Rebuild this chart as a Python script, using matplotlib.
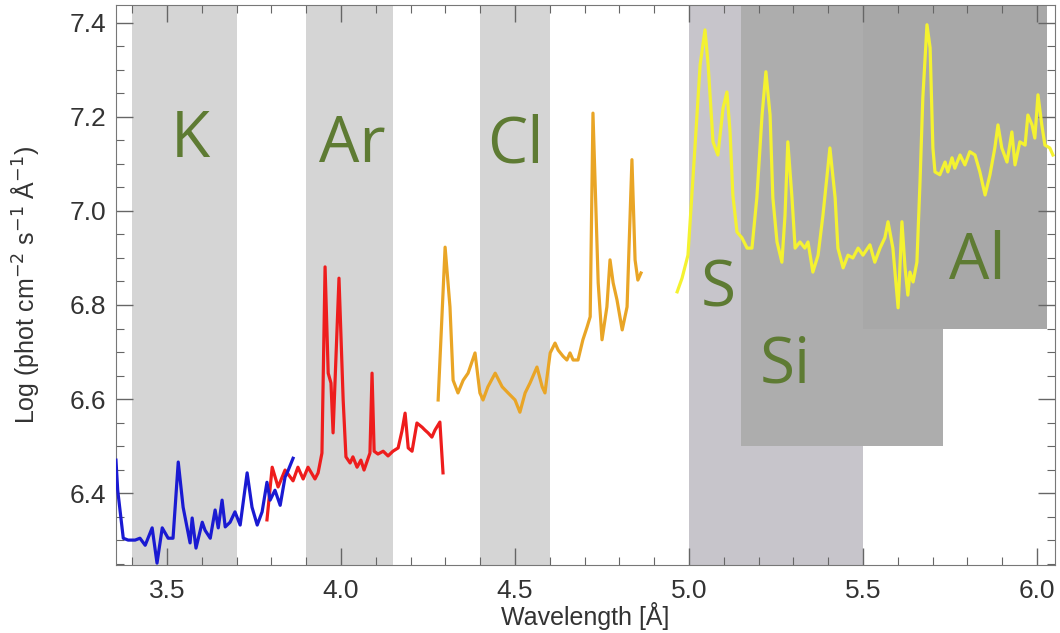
import matplotlib.pyplot as plt
from matplotlib.patches import Rectangle
from matplotlib.ticker import MultipleLocator

# --- spectral segments (wavelength in A, log photon flux) ---
wl_blue = [3.353, 3.358, 3.374, 3.388, 3.408, 3.422, 3.437, 3.457, 3.471, 3.486,
           3.503, 3.517, 3.532, 3.546, 3.566, 3.572, 3.583, 3.601, 3.609, 3.624,
           3.638, 3.647, 3.658, 3.667, 3.681, 3.695, 3.710, 3.730, 3.744, 3.759,
           3.773, 3.787, 3.796, 3.810, 3.825, 3.839, 3.845, 3.862]
fl_blue = [6.470, 6.406, 6.304, 6.300, 6.300, 6.304, 6.289, 6.326, 6.251, 6.326,
           6.304, 6.304, 6.466, 6.370, 6.294, 6.347, 6.283, 6.338, 6.321, 6.304,
           6.364, 6.326, 6.385, 6.328, 6.338, 6.360, 6.332, 6.443, 6.370, 6.332,
           6.360, 6.423, 6.385, 6.406, 6.374, 6.434, 6.443, 6.474]

wl_red = [3.787, 3.802, 3.819, 3.839, 3.862, 3.876, 3.891, 3.905, 3.925, 3.934,
          3.945, 3.954, 3.963, 3.971, 3.977, 3.994, 4.006, 4.014, 4.026, 4.034,
          4.046, 4.057, 4.066, 4.083, 4.089, 4.095, 4.106, 4.121, 4.135, 4.149,
          4.164, 4.175, 4.184, 4.193, 4.204, 4.218, 4.233, 4.241, 4.250, 4.261,
          4.270, 4.284, 4.293]
fl_red = [6.343, 6.455, 6.413, 6.449, 6.426, 6.455, 6.430, 6.455, 6.430, 6.443,
          6.485, 6.881, 6.655, 6.634, 6.528, 6.857, 6.598, 6.477, 6.464, 6.477,
          6.455, 6.470, 6.449, 6.485, 6.655, 6.489, 6.483, 6.489, 6.479, 6.489,
          6.496, 6.532, 6.570, 6.496, 6.489, 6.549, 6.540, 6.534, 6.528, 6.519,
          6.534, 6.551, 6.443]

wl_orange = [4.279, 4.299, 4.313, 4.322, 4.336, 4.351, 4.365, 4.385, 4.399, 4.408,
             4.422, 4.443, 4.463, 4.480, 4.500, 4.514, 4.529, 4.543, 4.563, 4.578,
             4.586, 4.601, 4.615, 4.624, 4.638, 4.649, 4.658, 4.667, 4.681, 4.695,
             4.707, 4.716, 4.724, 4.739, 4.750, 4.764, 4.773, 4.782, 4.793, 4.808,
             4.822, 4.836, 4.845, 4.853, 4.862]
fl_orange = [6.598, 6.923, 6.796, 6.640, 6.613, 6.640, 6.655, 6.698, 6.613, 6.598,
             6.626, 6.655, 6.626, 6.613, 6.598, 6.572, 6.613, 6.634, 6.668, 6.626,
             6.613, 6.698, 6.719, 6.704, 6.691, 6.683, 6.698, 6.683, 6.683, 6.726,
             6.753, 6.775, 7.208, 6.847, 6.726, 6.796, 6.896, 6.847, 6.811, 6.747,
             6.796, 7.109, 6.896, 6.853, 6.868]

wl_yellow = [4.966, 4.980, 4.997, 5.017, 5.032, 5.046, 5.055, 5.069, 5.083, 5.098,
             5.109, 5.118, 5.126, 5.138, 5.152, 5.167, 5.181, 5.195, 5.210, 5.221,
             5.233, 5.241, 5.253, 5.267, 5.276, 5.284, 5.296, 5.305, 5.319, 5.333,
             5.342, 5.356, 5.371, 5.385, 5.405, 5.420, 5.428, 5.443, 5.457, 5.471,
             5.486, 5.500, 5.520, 5.534, 5.549, 5.563, 5.572, 5.586, 5.601, 5.612,
             5.621, 5.629, 5.635, 5.644, 5.655, 5.664, 5.672, 5.684, 5.693, 5.701,
             5.707, 5.721, 5.736, 5.744, 5.756, 5.764, 5.779, 5.793, 5.807, 5.822,
             5.836, 5.851, 5.865, 5.879, 5.888, 5.899, 5.914, 5.928, 5.937, 5.951,
             5.966, 5.974, 5.986, 5.994, 6.003, 6.014, 6.023, 6.037, 6.046]
fl_yellow = [6.828, 6.857, 6.906, 7.134, 7.311, 7.385, 7.311, 7.147, 7.119, 7.219,
             7.253, 7.168, 7.034, 6.955, 6.943, 6.921, 6.921, 7.028, 7.204, 7.296,
             7.204, 7.028, 6.934, 6.891, 6.991, 7.147, 7.028, 6.921, 6.934, 6.921,
             6.934, 6.870, 6.906, 6.991, 7.134, 7.028, 6.921, 6.879, 6.906, 6.900,
             6.921, 6.906, 6.928, 6.891, 6.921, 6.943, 6.977, 6.921, 6.794, 6.977,
             6.879, 6.821, 6.870, 6.849, 6.891, 7.062, 7.240, 7.396, 7.347, 7.134,
             7.083, 7.077, 7.104, 7.083, 7.113, 7.091, 7.119, 7.098, 7.126, 7.119,
             7.083, 7.034, 7.077, 7.134, 7.183, 7.134, 7.104, 7.168, 7.098, 7.147,
             7.140, 7.204, 7.183, 7.155, 7.247, 7.183, 7.140, 7.134, 7.119]

# --- element bands: full-height ones (x0, x1) and boxed ones (x0, x1, y0) ---
band_names = ["K", "Ar", "Cl"]
band_x0 = [3.40, 3.90, 4.40]
band_x1 = [3.70, 4.15, 4.60]

box_names = ["S", "Si", "Al"]
box_x0 = [5.00, 5.15, 5.50]
box_x1 = [5.50, 5.73, 6.03]
box_y0 = [6.00, 6.50, 6.75]
box_colors = ["#c7c5cb", "#adadad", "#a8a8a8"]

label_names = ["K", "Ar", "Cl", "S", "Si", "Al"]
label_x = [3.566, 4.032, 4.500, 5.083, 5.276, 5.830]
label_y = [7.151, 7.140, 7.140, 6.832, 6.672, 6.891]

plt.rcParams['font.family'] = ['Liberation Sans', 'DejaVu Sans']

fig = plt.figure(figsize=(10.6, 6.33), dpi=100)
ax = fig.add_axes([0.1094, 0.1074, 0.8859, 0.8847])
ax.set_xlim(3.353, 6.052)
ax.set_ylim(6.247, 7.438)

for x0, x1 in zip(band_x0, band_x1):
    ax.axvspan(x0, x1, color="#d5d5d5", lw=0, zorder=0)
for x0, x1, y0, c in zip(box_x0, box_x1, box_y0, box_colors):
    ax.add_patch(Rectangle((x0, y0), x1 - x0, 2.0, color=c, lw=0, zorder=0))

ax.plot(wl_blue, fl_blue, color="#1a1ad2", lw=2.3, zorder=3)
ax.plot(wl_red, fl_red, color="#ee1d1d", lw=2.3, zorder=2)
ax.plot(wl_orange, fl_orange, color="#e9a526", lw=2.3, zorder=2)
ax.plot(wl_yellow, fl_yellow, color="#f4f230", lw=2.3, zorder=2)

for name, x, y in zip(label_names, label_x, label_y):
    ax.text(x, y, name, color="#5e7b33", fontsize=46, family="Open Sans",
            ha="center", va="center", zorder=4)

ax.xaxis.set_major_locator(MultipleLocator(0.5))
ax.xaxis.set_minor_locator(MultipleLocator(0.1))
ax.yaxis.set_major_locator(MultipleLocator(0.2))
ax.yaxis.set_minor_locator(MultipleLocator(0.05))
ax.xaxis.set_major_formatter(plt.FormatStrFormatter('%.1f'))
ax.yaxis.set_major_formatter(plt.FormatStrFormatter('%.1f'))
ax.tick_params(which='both', direction='in', top=True, right=True,
               color='#666666', labelsize=19, labelcolor='#333333')
ax.tick_params(which='major', length=12, width=1)
ax.tick_params(which='minor', length=6, width=0.8)
ax.tick_params(axis='x', pad=10)
ax.tick_params(axis='y', pad=7)
for s in ax.spines.values():
    s.set_color('#777777')

ax.set_xlabel("Wavelength [Å]", fontsize=18, color='#333333')
ax.set_ylabel("Log (phot cm$^{-2}$ s$^{-1}$ Å$^{-1}$)", fontsize=18,
              color='#333333')
ax.xaxis.set_label_coords(0.5, -0.066)
ax.yaxis.set_label_coords(-0.080, 0.5)

fig.savefig("out.png", dpi=100)
